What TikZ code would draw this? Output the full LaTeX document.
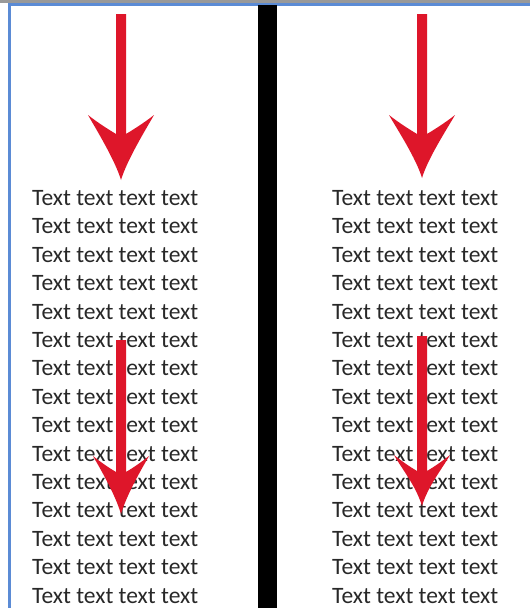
\documentclass[tikz,border=0pt]{standalone}
\usepackage{fontspec}
\setmainfont{Carlito}
\definecolor{arrowred}{RGB}{222,22,42}
\definecolor{frameblue}{RGB}{91,139,213}
\definecolor{textgray}{RGB}{40,40,40}
\newcommand\redarrow[6]{%
  % #1 center x, #2 top y, #3 wing y, #4 junction y, #5 tip y, #6 half head width
  \fill[arrowred]
    ({#1-5},#2) -- ({#1-5},#4)
    .. controls ({#1-10},{#4-3}) and ({#1-#6+10},{#3+8}) .. ({#1-#6},#3)
    .. controls ({#1-#6+8},{#3+14}) and ({#1-6},{#5-20}) .. (#1,#5)
    .. controls ({#1+6},{#5-20}) and ({#1+#6-8},{#3+14}) .. ({#1+#6},#3)
    .. controls ({#1+#6-10},{#3+8}) and ({#1+10},{#4-3}) .. ({#1+5},#4)
    -- ({#1+5},#2) -- cycle;}
\tikzset{
  linetext/.style={anchor=base west, inner sep=0pt, text=textgray, font=\fontsize{23.5}{28}\selectfont}
}
\begin{document}
\begin{tikzpicture}[x=1pt,y=-1pt]
\useasboundingbox (0,0) rectangle (530,608);
\fill[white] (0,0) rectangle (530,608);
% top gray line and blue frame
\fill[gray!80] (0,0) rectangle (530,2.5);
\fill[frameblue] (8,3) rectangle (530,5.5);
\fill[frameblue] (8,3) rectangle (10.5,608);
% black divider
\fill[black] (258,5) rectangle (277,608);
% text columns
\foreach \k in {0,...,14}{
  \node[linetext] (L\k) at (32,{205.5+28.4*\k}) {Text text text text};
  \node[linetext] (R\k) at (332,{205.5+28.4*\k}) {Text text text text};
}
% arrows
\redarrow{121}{14}{115}{134}{180}{33}
\redarrow{422}{14}{115}{134}{178}{33}
\redarrow{121}{340}{456}{472}{514}{28}
\redarrow{422}{336}{455}{471}{506}{28}
\end{tikzpicture}
\end{document}
